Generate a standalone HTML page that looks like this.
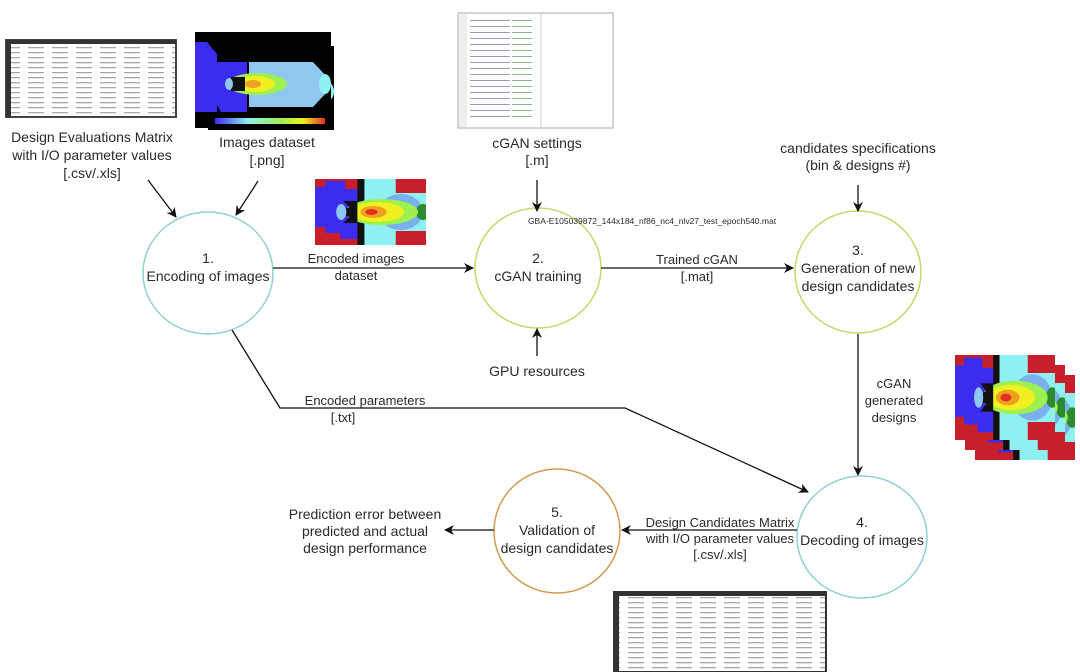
<!DOCTYPE html>
<html><head><meta charset="utf-8"><style>
html,body{margin:0;padding:0;background:#fff;}
svg{display:block;font-family:"Liberation Sans",sans-serif;}
text{fill:#2a2a2a;font-size:14px;text-anchor:middle;}
</style></head><body>
<svg width="1080" height="672" viewBox="0 0 1080 672">
<defs>
<marker id="ah" markerWidth="10" markerHeight="10" refX="9" refY="5" orient="auto" markerUnits="userSpaceOnUse">
<path d="M0,0 L10,5 L0,10 L3,5 Z" fill="#111"/></marker>
<symbol id="enc" viewBox="0 0 110 66" preserveAspectRatio="none">
<rect width="110" height="66" fill="#c8202a"/>
<path d="M0,8 L10,8 L10,2 L30,2 L30,10 L42,10 L42,60 L25,60 L25,54 L10,54 L10,48 L0,48Z" fill="#3b2cf0"/>
<rect x="42" y="0" width="7" height="66" fill="#111"/>
<path d="M49,0 L80,0 L80,14 L110,14 L110,52 L80,52 L80,66 L49,66Z" fill="#8ef0f0"/>
<ellipse cx="85" cy="33" rx="22" ry="18" fill="#7ab0ee"/>
<ellipse cx="107" cy="33" rx="7" ry="8" fill="#2e8a2e"/>
<ellipse cx="66" cy="33" rx="36" ry="13" fill="#9ef050"/>
<ellipse cx="62" cy="33" rx="26" ry="10" fill="#f0f020"/>
<ellipse cx="58" cy="33" rx="13" ry="6" fill="#f0a020"/>
<ellipse cx="56" cy="33" rx="6" ry="3" fill="#e03020"/>
<path d="M28,22 L42,22 L42,44 L28,44 L34,38 L22,34 L34,28Z" fill="#111"/>
<ellipse cx="26" cy="33" rx="5" ry="8" fill="#8ec8f0"/>
</symbol>
<symbol id="png" viewBox="0 0 136 96" preserveAspectRatio="none">
<rect width="136" height="96" fill="#000"/>
<path d="M0,10 L12,10 L22,22 L22,80 L0,80Z" fill="#3b2cf0"/>
<path d="M20,30 L52,30 L52,80 L26,80 L20,70Z" fill="#3b2cf0"/>
<path d="M54,30 L118,30 L132,45 L132,60 L118,75 L54,75Z" fill="#8ec8f0"/>
<ellipse cx="130" cy="52" rx="6" ry="10" fill="#8ef0f0"/>
<ellipse cx="62" cy="52" rx="30" ry="11" fill="#9ef050"/>
<ellipse cx="60" cy="52" rx="20" ry="8" fill="#f0f020"/>
<ellipse cx="58" cy="52" rx="8" ry="4" fill="#f0a020"/>
<path d="M36,45 L50,45 L50,59 L36,59Z" fill="#111"/>
<ellipse cx="34" cy="52" rx="4" ry="6" fill="#8ec8f0"/>
<rect x="20" y="86" width="110" height="6" fill="url(#cb)"/>
</symbol>
<linearGradient id="cb"><stop offset="0" stop-color="#3b2cf0"/><stop offset=".3" stop-color="#8ef0f0"/><stop offset=".6" stop-color="#9ef050"/><stop offset=".8" stop-color="#f0f020"/><stop offset="1" stop-color="#e03020"/></linearGradient>
<pattern id="sheet" width="24" height="5" patternUnits="userSpaceOnUse">
<rect width="24" height="5" fill="#fff"/>
<rect x="4" y="2" width="16" height="1.3" fill="#a8a8a8"/>
</pattern>
<pattern id="code" width="150" height="6" patternUnits="userSpaceOnUse">
<rect x="20" y="2" width="40" height="1" fill="#9a9ab8"/>
<rect x="62" y="2" width="20" height="1" fill="#8ab88a"/>
</pattern>
</defs>

<rect x="6" y="40" width="170" height="77" fill="url(#sheet)" stroke="#444" stroke-width="2"/>
<rect x="6" y="40" width="170" height="4" fill="#333"/>
<rect x="6" y="40" width="5" height="77" fill="#333"/>

<use href="#png" x="208" y="46" width="126" height="84"/>
<use href="#png" x="204" y="42" width="126" height="84"/>
<use href="#png" x="200" y="38" width="126" height="84"/>
<use href="#png" x="195" y="32" width="136" height="96"/>

<rect x="458" y="13" width="155" height="115" fill="#fff" stroke="#aaa"/>
<rect x="459" y="14" width="8" height="113" fill="#eee"/>
<rect x="464" y="20" width="140" height="100" fill="url(#code)"/>
<line x1="541" y1="14" x2="541" y2="127" stroke="#ccc"/>

<use href="#enc" x="315" y="179" width="111" height="66"/>

<use href="#enc" x="975" y="375" width="100" height="85"/>
<use href="#enc" x="965" y="365" width="100" height="85"/>
<use href="#enc" x="955" y="355" width="100" height="85"/>

<rect x="614" y="592" width="212" height="80" fill="url(#sheet)" stroke="#333" stroke-width="2"/>
<rect x="614" y="592" width="212" height="4" fill="#333"/>
<rect x="614" y="592" width="5" height="80" fill="#333"/>

<ellipse cx="208" cy="273" rx="65" ry="61" fill="none" stroke="#8fd0d4" stroke-width="1.5"/>
<ellipse cx="538" cy="268" rx="63" ry="60" fill="none" stroke="#c6d66a" stroke-width="1.5"/>
<ellipse cx="858" cy="272" rx="63" ry="61" fill="none" stroke="#c6d66a" stroke-width="1.5"/>
<ellipse cx="862" cy="537" rx="65" ry="61" fill="none" stroke="#8fd0d4" stroke-width="1.5"/>
<ellipse cx="557" cy="531" rx="63" ry="62" fill="none" stroke="#d49a50" stroke-width="1.5"/>

<g stroke="#111" stroke-width="1.3" fill="none" marker-end="url(#ah)">
<line x1="148" y1="180" x2="176" y2="217"/>
<line x1="258" y1="181" x2="236" y2="215"/>
<line x1="273" y1="268" x2="473" y2="268"/>
<line x1="601" y1="268" x2="793" y2="268"/>
<line x1="537" y1="180" x2="537" y2="211"/>
<line x1="537" y1="356" x2="537" y2="329"/>
<line x1="858" y1="185" x2="858" y2="211"/>
<line x1="858" y1="334" x2="858" y2="475"/>
<polyline points="232,330 280,408 625,408 808,492"/>
<line x1="797" y1="530" x2="622" y2="530"/>
<line x1="494" y1="530" x2="445" y2="530"/>
</g>

<text x="92" y="142">Design Evaluations Matrix</text>
<text x="92" y="160">with I/O parameter values</text>
<text x="92" y="178">[.csv/.xls]</text>
<text x="267" y="147">Images dataset</text>
<text x="267" y="165">[.png]</text>
<text x="537" y="148">cGAN settings</text>
<text x="537" y="165">[.m]</text>
<text x="858" y="153">candidates specifications</text>
<text x="858" y="170">(bin &amp; designs #)</text>
<text x="652" y="224" style="font-size:8.5px">GBA-E105039872_144x184_nf86_nc4_nlv27_test_epoch540.mat</text>

<text x="208" y="263">1.</text>
<text x="208" y="281">Encoding of images</text>
<text x="538" y="263">2.</text>
<text x="538" y="281">cGAN training</text>
<text x="858" y="255">3.</text>
<text x="858" y="273">Generation of new</text>
<text x="858" y="291">design candidates</text>
<text x="862" y="527">4.</text>
<text x="862" y="545">Decoding of images</text>
<text x="557" y="517">5.</text>
<text x="557" y="535">Validation of</text>
<text x="557" y="553">design candidates</text>

<text x="356" y="263" style="font-size:13px">Encoded images</text>
<text x="356" y="280" style="font-size:13px">dataset</text>
<text x="697" y="264" style="font-size:13px">Trained cGAN</text>
<text x="697" y="281" style="font-size:13px">[.mat]</text>
<text x="537" y="376">GPU resources</text>
<text x="365" y="405" style="font-size:13px">Encoded parameters</text>
<text x="343" y="422" style="font-size:13px">[.txt]</text>
<text x="894" y="388" style="font-size:13px">cGAN</text>
<text x="894" y="405" style="font-size:13px">generated</text>
<text x="894" y="422" style="font-size:13px">designs</text>
<text x="720" y="527" style="font-size:13px">Design Candidates Matrix</text>
<text x="720" y="543" style="font-size:13px">with I/O parameter values</text>
<text x="720" y="559" style="font-size:13px">[.csv/.xls]</text>
<text x="365" y="519">Prediction error between</text>
<text x="365" y="536">predicted and actual</text>
<text x="365" y="553">design performance</text>
</svg>
</body></html>
